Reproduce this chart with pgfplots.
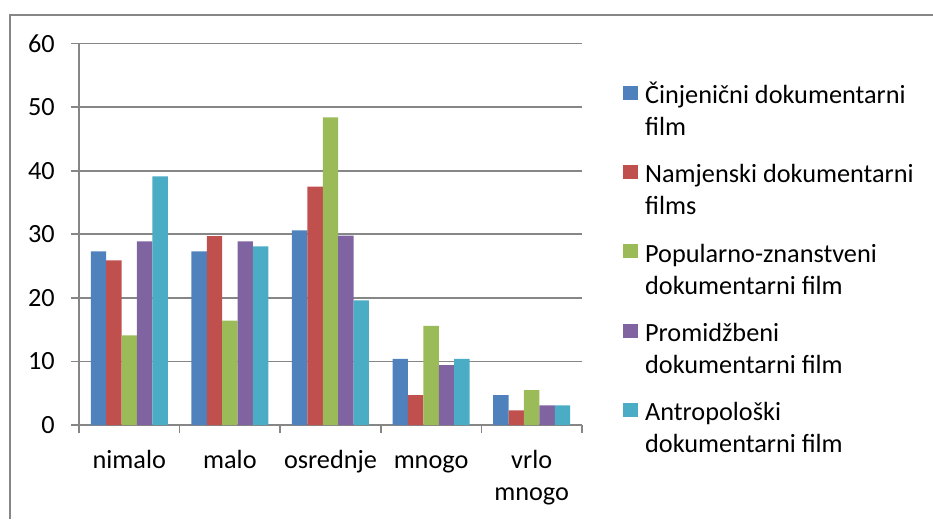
\documentclass[border=0pt]{standalone}
\usepackage{fontspec}
\setmainfont{Carlito}
\usepackage{pgfplots}
\pgfplotsset{compat=1.18}
\definecolor{c1}{HTML}{4F81BD}
\definecolor{c2}{HTML}{C0504D}
\definecolor{c3}{HTML}{9BBB59}
\definecolor{c4}{HTML}{8064A2}
\definecolor{c5}{HTML}{4BACC6}
\definecolor{gridc}{HTML}{868686}
\begin{document}
\fontsize{19.7}{24}\selectfont
\begin{tikzpicture}
\path[use as bounding box] (0pt,0pt) rectangle (699.75pt,-389.25pt);
\draw[gridc, line width=1.3pt] (7.5pt,-389.25pt) -- (7.5pt,-11.25pt) -- (699.75pt,-11.25pt);
\begin{axis}[
  at={(59.25pt,-318.75pt)}, anchor=south west,
  scale only axis, width=377.25pt, height=286.1pt,
  ymin=0, ymax=60, ytick={0,10,...,60},
  xmin=-0.5, xmax=4.5,
  xtick={-0.5,0.5,...,4.5},
  x tick label as interval,
  xticklabels={{\strut nimalo},{\strut malo},{\strut osrednje},{\strut mnogo},{\strut vrlo\\\strut mnogo}},
  xticklabel style={align=center, yshift=-3pt},
  axis x line*=bottom, axis y line*=left,
  axis line style={gridc, line width=1.3pt},
  tick style={gridc, line width=1.3pt},
  tick align=outside, major tick length=6pt,
  ymajorgrids, grid style={gridc, line width=1.3pt},
  /pgf/number format/assume math mode=true,
  yticklabel style={xshift=-5.5pt},
  ybar=0pt, bar width=11.55pt,
  legend style={draw=none, inner sep=0pt, at={(1.0813,0.9028)}, anchor=north west,
    nodes={align=left, inner sep=0pt}, row sep=15.8pt, column sep=0pt,
    font=\fontsize{19.7}{24}\selectfont},
  legend cell align=left,
  legend image code/.code={\fill[#1] (0pt,7.9pt) rectangle (11.25pt,18.4pt);
    \path (16.5pt,0pt);},
]
\addplot[fill=c1, draw=none] coordinates {(0,27.3) (1,27.3) (2,30.6) (3,10.4) (4,4.7)};
\addplot[fill=c2, draw=none] coordinates {(0,25.9) (1,29.7) (2,37.5) (3,4.7) (4,2.3)};
\addplot[fill=c3, draw=none] coordinates {(0,14.1) (1,16.4) (2,48.4) (3,15.6) (4,5.5)};
\addplot[fill=c4, draw=none] coordinates {(0,28.9) (1,28.9) (2,29.8) (3,9.4) (4,3.1)};
\addplot[fill=c5, draw=none] coordinates {(0,39.1) (1,28.1) (2,19.6) (3,10.4) (4,3.1)};
\addlegendentry{\strut Činjenični dokumentarni\\\strut film}
\addlegendentry{\strut Namjenski dokumentarni\\\strut films}
\addlegendentry{\strut Popularno-znanstveni\\\strut dokumentarni film}
\addlegendentry{\strut Promidžbeni\\\strut dokumentarni film}
\addlegendentry{\strut Antropološki\\\strut dokumentarni film}
\end{axis}
\end{tikzpicture}
\end{document}
